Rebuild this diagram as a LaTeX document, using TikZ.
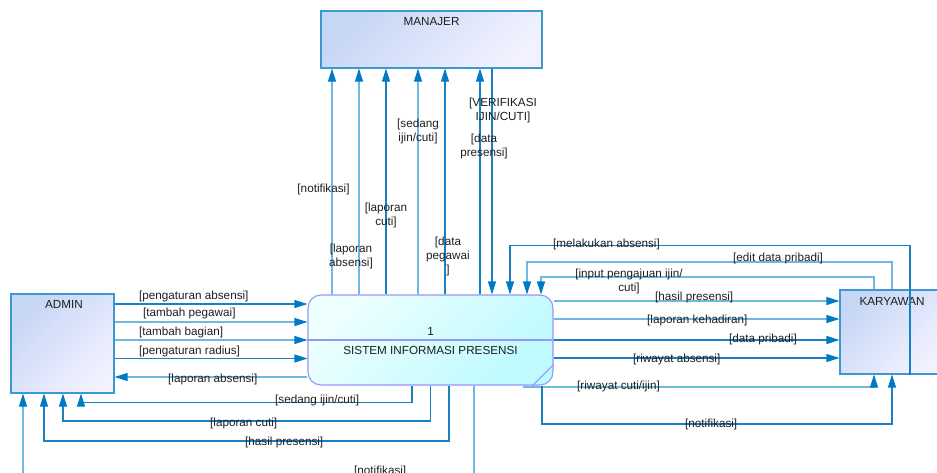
\documentclass[tikz,border=0pt]{standalone}
\usepackage{fontspec}
\setmainfont{Liberation Sans}
\usetikzlibrary{arrows.meta}

\definecolor{flowdark}{RGB}{25,128,196}
\definecolor{flowlight}{RGB}{112,184,228}
\definecolor{tipblue}{RGB}{0,122,196}
\definecolor{entityline}{RGB}{60,152,208}
\definecolor{entitytop}{RGB}{198,214,245}
\definecolor{entitybot}{RGB}{242,242,255}
\definecolor{procline}{RGB}{150,150,250}
\definecolor{proctop}{RGB}{238,255,255}
\definecolor{procbot}{RGB}{190,250,255}
\definecolor{labeltext}{RGB}{30,30,30}

\begin{document}
\begin{tikzpicture}[x=1pt,y=-1pt,
  every node/.style={font=\fontsize{11.7}{14}\selectfont, text=labeltext},
  entity/.style={rectangle, draw=entityline, line width=1.1pt,
    top color=entitytop, bottom color=entitybot, shading angle=45, inner sep=0pt},
  process/.style={rectangle, rounded corners=13pt, draw=procline, line width=1.1pt,
    top color=proctop, bottom color=procbot, shading angle=45, inner sep=0pt,
    minimum width=245pt, minimum height=90pt},
  lbl/.style={inner sep=0pt, align=center},
  flowD/.style={line width=1.1pt, draw=flowdark,
    -{Triangle[length=13pt,width=8pt,color=tipblue]}},
  flowL/.style={line width=1.1pt, draw=flowlight,
    -{Triangle[length=13pt,width=8pt,color=tipblue]}},
]
\useasboundingbox (0,0) rectangle (937,472);
\clip (0,0) rectangle (937,472);

% external entities and the process
\node[entity, minimum width=221pt, minimum height=57pt] (man) at (431.5,39.5) {};
\node[lbl] (manT) at (431.5,22) {MANAJER};
\node[entity, minimum width=103pt, minimum height=99pt] (admin) at (62.5,343.5) {};
\node[lbl] (adminT) at (64,304) {ADMIN};
\node[entity, minimum width=104pt, minimum height=84pt] (kar) at (892,332) {};
\node[lbl] (karT) at (892,301) {KARYAWAN};

\node[process] (proc) at (430.5,340) {};
\draw[procline, line width=1.1pt] (proc.west) -- (proc.east);
\draw[procline, line width=1.1pt] ([xshift=-21pt]proc.south east) -- ([yshift=21pt]proc.south east);
\node[lbl] (procNo) at (430.7,331) {1};
\node[lbl] (procName) at (430.5,350) {SISTEM INFORMASI PRESENSI};

% admin -> process
\draw[flowD] (admin.east |- 0,304) -- (proc.west |- 0,304);
\draw[flowL] (admin.east |- 0,322) -- (proc.west |- 0,322);
\draw[flowL] (admin.east |- 0,340) -- (proc.west |- 0,340);
\draw[flowD] (admin.east |- 0,358.5) -- (proc.west |- 0,358.5);
\draw[flowL] (proc.west |- 0,377) -- (admin.east |- 0,377);

% process -> admin (from below)
\draw[flowD] (proc.south -| 412,0) |- (81,402.5) -- (admin.south -| 81,0);
\draw[flowD] (proc.south -| 430.5,0) |- (63,421) -- (admin.south -| 63,0);
\draw[flowD] (proc.south -| 449,0) |- (44,441) -- (admin.south -| 44,0);
\draw[flowL] (proc.south -| 474,0) |- (23,478) -- (admin.south -| 23,0);

% process <-> manajer
\foreach \px/\st in {332/flowL,359/flowL,386/flowD,418/flowL,445/flowD,480/flowD}
  \draw[\st] (proc.north -| \px,0) -- (man.south -| \px,0);
\draw[flowD] (man.south -| 492,0) -- (proc.north -| 492,0);

% karyawan -> process (over the top)
\draw[flowD] (kar.south -| 910,0) -- (910,245.5) -| (proc.north -| 510,0);
\draw[flowL] (kar.north -| 892,0) -- (892,262) -| (proc.north -| 527,0);
\draw[flowL] (kar.north -| 874,0) -- (874,277) -| (proc.north -| 541,0);

% process -> karyawan
\draw[flowL] (proc.east |- 0,301) -- (kar.west |- 0,301);
\draw[flowL] (proc.east |- 0,319) -- (kar.west |- 0,319);
\draw[flowD] (proc.east |- 0,340) -- (kar.west |- 0,340);
\draw[flowD] (proc.east |- 0,358) -- (kar.west |- 0,358);
\draw[flowL] (proc.south -| 524,0) -- (524,387) -| (kar.south -| 874,0);
\draw[flowD] (proc.south -| 542,0) -- (542,424) -| (kar.south -| 892,0);

% labels: manajer flows
\node[lbl] (lM1) at (323.5,189) {[notifikasi]};
\node[lbl] (lM2) at (351,256) {[laporan\\absensi]};
\node[lbl] (lM3) at (386,215) {[laporan\\cuti]};
\node[lbl] (lM4) at (418,131) {[sedang\\ijin/cuti]};
\node[lbl] (lM5) at (448,256) {[data\\pegawai\\]};
\node[lbl] (lM6) at (484,146) {[data\\presensi]};
\node[lbl] (lM7) at (503,110) {[VERIFIKASI\\IJIN/CUTI]};

% labels: admin flows
\node[lbl, anchor=west] (lA1) at (139,296) {[pengaturan absensi]};
\node[lbl, anchor=west] (lA2) at (143,313) {[tambah pegawai]};
\node[lbl, anchor=west] (lA3) at (139,332) {[tambah bagian]};
\node[lbl, anchor=west] (lA4) at (139,351) {[pengaturan radius]};
\node[lbl, anchor=west] (lA5) at (168,379) {[laporan absensi]};
\node[lbl, anchor=west] (lA6) at (275,400) {[sedang ijin/cuti]};
\node[lbl, anchor=west] (lA7) at (210,423) {[laporan cuti]};
\node[lbl, anchor=west] (lA8) at (245,442) {[hasil presensi]};
\node[lbl, anchor=west] (lA9) at (354,471) {[notifikasi]};

% labels: karyawan flows
\node[lbl, anchor=west] (lK1) at (553,244) {[melakukan absensi]};
\node[lbl, anchor=west] (lK2) at (733,258) {[edit data pribadi]};
\node[lbl] (lK3) at (629,281) {[input pengajuan ijin/\\cuti]};
\node[lbl, anchor=west] (lK4) at (655,297.5) {[hasil presensi]};
\node[lbl, anchor=west] (lK5) at (647,320) {[laporan kehadiran]};
\node[lbl, anchor=west] (lK6) at (729,339) {[data pribadi]};
\node[lbl, anchor=west] (lK7) at (633,359) {[riwayat absensi]};
\node[lbl, anchor=west] (lK8) at (577,386) {[riwayat cuti/ijin]};
\node[lbl, anchor=west] (lK9) at (685,424) {[notifikasi]};
\end{tikzpicture}
\end{document}
